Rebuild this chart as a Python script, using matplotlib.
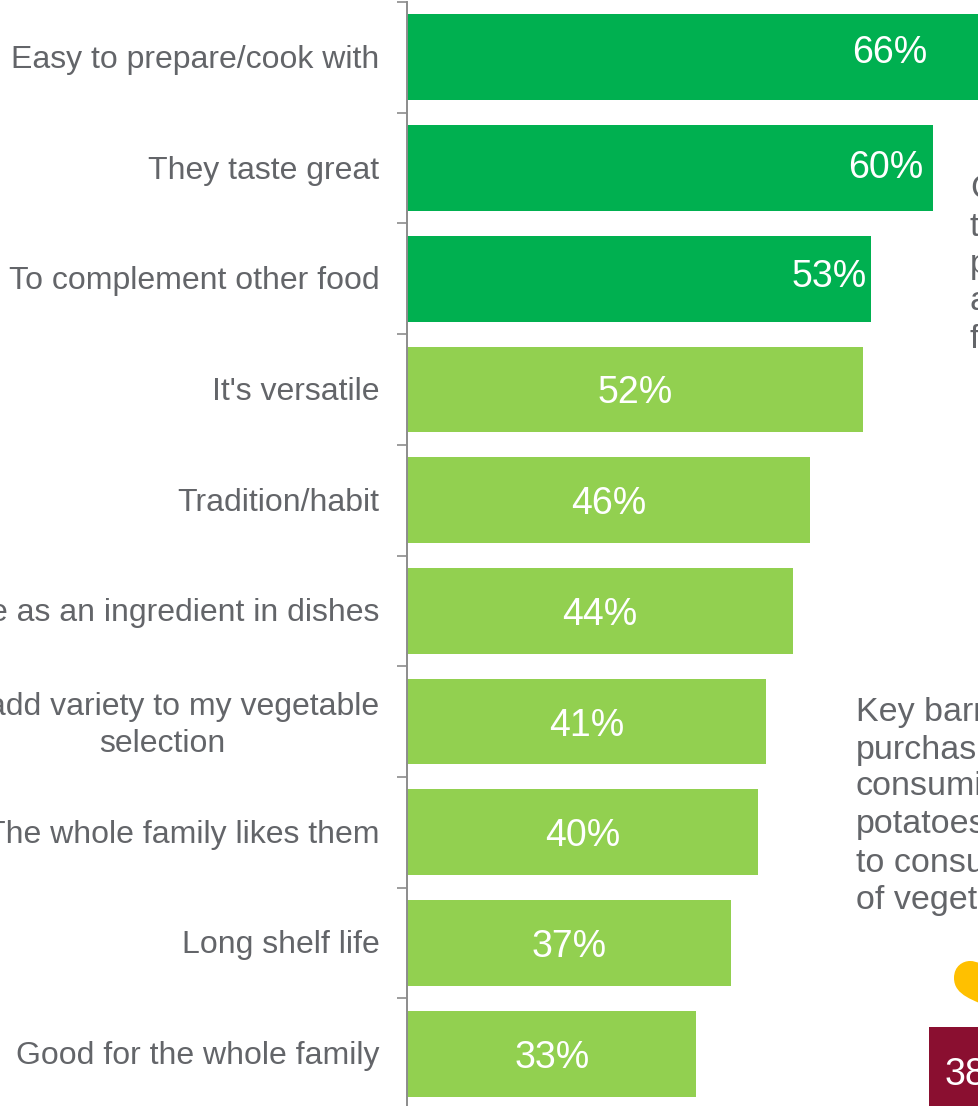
import matplotlib
matplotlib.use("Agg")
import matplotlib.pyplot as plt
from matplotlib.patches import PathPatch, Rectangle
from matplotlib.path import Path
from matplotlib.transforms import ScaledTranslation

categories = [
    "Easy to prepare/cook with", "They taste great", "To complement other food",
    "It's versatile", "Tradition/habit", "Use as an ingredient in dishes",
    "To add variety to my vegetable\nselection", "The whole family likes them",
    "Long shelf life", "Good for the whole family",
]
values = [66, 60, 53, 52, 46, 44, 41, 40, 37, 33]
top_note = ["C", "t", "p", "a", "f"]
bottom_note = ["Key barriers", "purchasing", "consuming", "potatoes", "to consume", "of vegetables"]
box_value = "38"

DARK, LIGHT, GREY = "#00B050", "#92D050", "#636569"
plt.rcParams["font.family"] = ["Liberation Sans", "DejaVu Sans"]
W, H = 979, 1106
fig = plt.figure(figsize=(W / 100, H / 100), dpi=100, facecolor="white")
ax = fig.add_axes([407.5 / W, 0, 1 - 407.5 / W, 1 - 2 / H])
PX_PER_UNIT = 8.75
PT = 0.72  # points per pixel at 100 dpi
ax.set_xlim(0, (W - 407.5) / PX_PER_UNIT)
ax.set_ylim(-0.5 + (H - 2) / 110.7, -0.5)

pos = list(range(len(values)))
colors = [DARK if i < 3 else LIGHT for i in pos]
ax.barh(pos, values, height=0.775, color=colors, linewidth=0)

for s in ("top", "right", "bottom"):
    ax.spines[s].set_visible(False)
ax.spines["left"].set_color("#8C8C8C")
ax.spines["left"].set_linewidth(1.4)
ax.xaxis.set_visible(False)
ax.set_yticks(pos)
ax.set_yticklabels(categories, fontsize=23, color=GREY, linespacing=1.3, multialignment="center")
ax.tick_params(axis="y", which="major", length=0, pad=20.2)
ax.set_yticks([i - 0.5 for i in pos], minor=True)
ax.tick_params(axis="y", which="minor", length=7, width=1.2, color="#8C8C8C")
for lab in ax.get_yticklabels():
    up = 3 if "\n" in lab.get_text() else 1
    lab.set_transform(lab.get_transform() + ScaledTranslation(0, up / 100, fig.dpi_scale_trans))

dark_offsets = {0: (-95, 4), 1: (-47, 0), 2: (-42, 2)}
for i, v in enumerate(values):
    txt = f"{v}%"
    if i in dark_offsets:
        dx, dy = dark_offsets[i]
        ax.annotate(txt, (v, i), xytext=(dx * PT, dy * PT), textcoords="offset points",
                    ha="center", va="center", color="white", fontsize=27, annotation_clip=False)
    else:
        ax.annotate(txt, (v / 2, i), xytext=(0, -4 * PT), textcoords="offset points",
                    ha="center", va="center", color="white", fontsize=27)

ov = fig.add_axes([0, 0, 1, 1], facecolor="none")
ov.set_xlim(0, W)
ov.set_ylim(H, 0)
ov.axis("off")
for y, t in zip([190, 227, 264, 302, 339], top_note):
    ov.text(970, y, t, fontsize=24.5, color=GREY, va="center", ha="left")
for y, t in zip([713, 750, 787, 824, 863, 900], bottom_note):
    ov.text(856, y, t, fontsize=24.5, color=GREY, va="center", ha="left")

ov.add_patch(Rectangle((929, 1027), 60, 90, color="#8A0F30", linewidth=0))
ov.text(945, 1075, box_value, fontsize=27, color="white", va="center", ha="left")

verts = [(990, 1008), (975, 1000), (954, 996), (954, 978), (954, 966), (963, 961), (970, 961),
         (977, 961), (985, 965), (990, 972), (990, 1008)]
codes = [Path.MOVETO, Path.CURVE4, Path.CURVE4, Path.CURVE4, Path.CURVE4, Path.CURVE4, Path.CURVE4,
         Path.CURVE4, Path.CURVE4, Path.CURVE4, Path.CLOSEPOLY]
ov.add_patch(PathPatch(Path(verts, codes), facecolor="#FFC000", linewidth=0))

fig.savefig("out.png", dpi=100)
